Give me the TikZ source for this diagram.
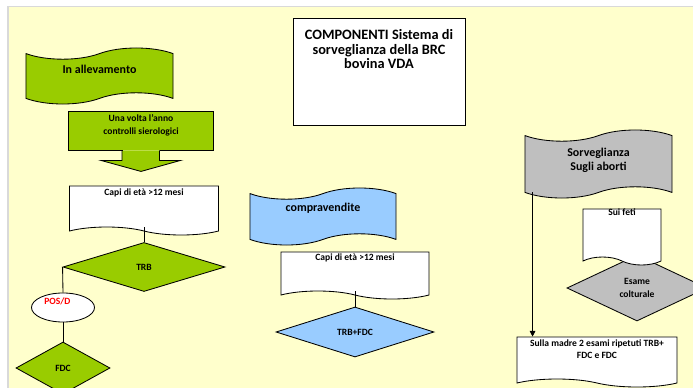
\documentclass[tikz,border=0pt]{standalone}
\usepackage{fontspec}
\setmainfont{Carlito}
\usetikzlibrary{shapes.symbols,shapes.geometric,arrows.meta}
\definecolor{bgyellow}{RGB}{255,255,204}
\definecolor{leafgreen}{RGB}{153,204,0}
\definecolor{skyblue}{RGB}{153,204,255}
\definecolor{shadegray}{RGB}{191,191,191}
\begin{document}
\begin{tikzpicture}[x=0.025cm,y=-0.025cm,line width=0.6pt,
  bigtxt/.style={font=\fontsize{8.5}{10}\selectfont\bfseries},
  smalltxt/.style={font=\fontsize{6.8}{9.2}\selectfont\bfseries},
  banner/.style={tape,draw,tape bend top=in and out,tape bend bottom=in and out,tape bend height=0.28cm,inner sep=0pt,align=center,bigtxt},
  sheet/.style={tape,draw,fill=white,tape bend top=none,tape bend bottom=out and in,tape bend height=0.2cm,inner sep=0pt,align=center,smalltxt},
  choice/.style={diamond,draw,inner sep=0pt,align=center,smalltxt}]
\useasboundingbox (0,0) rectangle (693,388);
\clip (0,0) rectangle (693,388);
\fill[white] (0,0) rectangle (693,388); %page
\fill[bgyellow] (9,7) rectangle (693,388); %slide
\draw[black!15,line width=1pt] (8,388) -- (8,6.5) -- (693,6.5);

% left column
\node[banner,fill=leafgreen,minimum width=3.675cm,minimum height=1.4cm,text depth=9.3pt] (allev) at (99.5,76) {In allevamento};
\node[fill=leafgreen,minimum width=3.6cm,minimum height=0.95cm,inner sep=0pt,align=center,smalltxt,text depth=9.8pt] (annual) at (141,131) {Una volta l’anno\\controlli sierologici};
\filldraw[fill=leafgreen] (annual.south) ++(18.5,0) -- ++(0,10) -- ++(21,0) -- ++(-39.5,11) -- ++(-40,-11) -- ++(21,0) -- ++(0,-10);
\draw (annual.south) ++(-18.5,0) -- (annual.south west) -- (annual.north west) -- (annual.north east) -- (annual.south east) -- ++(-53.5,0);
\node[sheet,minimum width=3.725cm,minimum height=1.225cm,text depth=21pt] (capi1) at (144,206.5) {Capi di età >12 mesi};
\node[choice,fill=leafgreen,minimum width=4.05cm,minimum height=1.225cm] (trb) at (144,267) {TRB};
\node[ellipse,draw,fill=white,minimum width=1.575cm,minimum height=0.725cm,inner sep=0pt,smalltxt,text=red,text depth=8.4pt] (pos) at (63,307.5) {POS/D\hspace*{8pt}};
\node[choice,fill=leafgreen,minimum width=2.35cm,minimum height=1.3cm] (fdc) at (63,368) {FDC};

% title
\node[draw,fill=white,minimum width=4.3cm,minimum height=2.675cm,inner sep=0pt,align=center,font=\fontsize{10.2}{10.3}\selectfont\bfseries,text depth=32pt] (title) at (379,71.5) {COMPONENTI Sistema di\\sorveglianza della BRC\\bovina VDA};

% middle column
\node[banner,fill=skyblue,minimum width=3.65cm,minimum height=1.425cm,text depth=12.7pt] (comp) at (323,216.5) {compravendite};
\node[sheet,minimum width=3.7cm,minimum height=1.175cm,text depth=21pt] (capi2) at (355,271.5) {Capi di età >12 mesi};
\node[choice,fill=skyblue,minimum width=3.95cm,minimum height=1.25cm] (trbfdc) at (355,332) {TRB+FDC};

% right column
\node[banner,fill=shadegray,minimum width=3.675cm,minimum height=1.7cm,text depth=6.3pt] (sorv) at (598.5,164) {Sorveglianza\\Sugli aborti};
\node[choice,fill=shadegray,minimum width=3.5cm,minimum height=1.65cm] (esame) at (637,288) {Esame\\colturale};
\node[sheet,minimum width=1.95cm,minimum height=1.4cm,text depth=29pt] (feti) at (622,233) {Sui feti};
\node[sheet,minimum width=4cm,minimum height=1.25cm,text depth=12.6pt] (madre) at (597,358) {Sulla madre 2 esami ripetuti TRB+\\FDC e FDC};

% links
\draw (capi1.south) -- (trb.north);
\draw (trb.west) -- (pos.north);
\draw (pos.south) -- (fdc.north);
\draw (capi2.south) -- (trbfdc.north);
\draw[-{Triangle[length=4pt,width=4pt]}] ([xshift=0.2cm]sorv.south west) -- ([xshift=0.2cm]sorv.south west |- madre.north);
\end{tikzpicture}
\end{document}
